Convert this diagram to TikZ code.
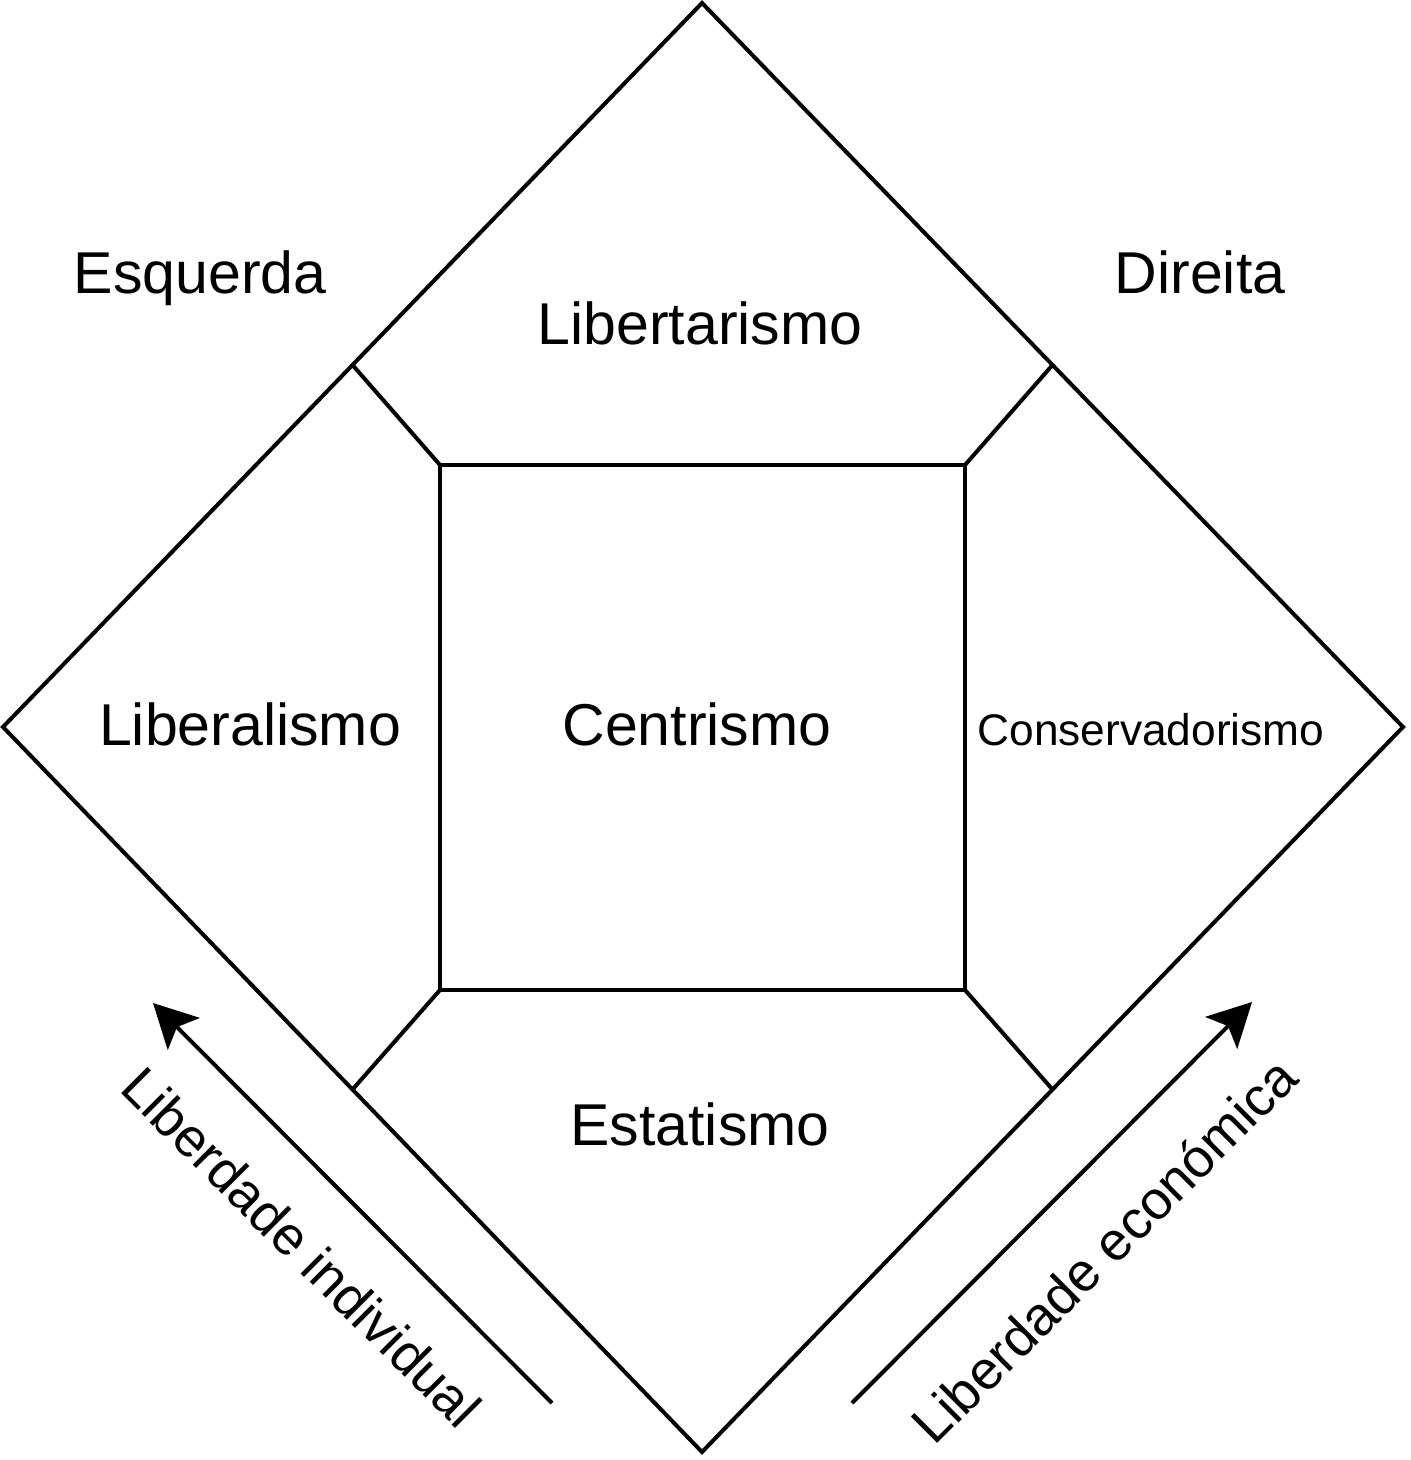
\documentclass[tikz,border=0pt]{standalone}
\usepackage{fontspec}
\setmainfont{Liberation Sans}
\usetikzlibrary{arrows.meta, positioning, calc}
\definecolor{ink}{HTML}{000000}

\begin{document}
\begin{tikzpicture}[
  x=0.02cm, y=-0.02cm,
  >={Stealth[length=0.87cm, width=0.9cm, inset=0.19cm]},
  frame/.style={ink, line width=0.08cm, line join=miter},
  axisline/.style={ink, line width=0.08cm},
  biglabel/.style={font=\fontsize{33.6}{40}\selectfont, text=ink, inner sep=0pt},
  smalllabel/.style={font=\fontsize{25.2}{30}\selectfont, text=ink, inner sep=0pt},
  axislabel/.style={font=\fontsize{30.8}{36}\selectfont, text=ink, inner sep=0pt},
]

% Canvas: 1410 x 1460 px, 1px = 0.02cm, y grows downward
\useasboundingbox (0,0) rectangle (1410,1460);

% --- Outer diamond ---
\coordinate (top)   at (702,3);
\coordinate (right) at (1403,727);
\coordinate (bot)   at (702,1452);
\coordinate (left)  at (3,727);
\draw[frame] (top) -- (right) -- (bot) -- (left) -- cycle;

% --- Inner square ---
\coordinate (in-nw) at (440,465);
\coordinate (in-ne) at (965,465);
\coordinate (in-se) at (965,990);
\coordinate (in-sw) at (440,990);
\draw[frame] (in-nw) -- (in-ne) -- (in-se) -- (in-sw) -- cycle;

% --- Spokes to the diamond edges (midpoints) ---
\coordinate (mid-nw) at ($(top)!0.5!(left)$);
\coordinate (mid-ne) at ($(top)!0.5!(right)$);
\coordinate (mid-se) at ($(bot)!0.5!(right)$);
\coordinate (mid-sw) at ($(bot)!0.5!(left)$);
\draw[frame] (in-nw) -- (mid-nw);
\draw[frame] (in-ne) -- (mid-ne);
\draw[frame] (in-se) -- (mid-se);
\draw[frame] (in-sw) -- (mid-sw);

% --- Region labels ---
\node[biglabel, anchor=base] (esq)  at (200,293)  {Esquerda};
\node[biglabel, anchor=base] (dir)  at (1200,293) {Direita};
\node[biglabel, anchor=base] (libt) at (700,344)  {Libertarismo};
\node[biglabel, anchor=base] (libl) at (250,745)  {Liberalismo};
\node[biglabel, anchor=base] (cent) at (697,745)  {Centrismo};
\node[smalllabel, anchor=base] (cons) at (1151,745) {Conservadorismo};
\node[biglabel, anchor=base] (esta) at (700,1145) {Estatismo};

% --- Axes ---
\coordinate (ind-from) at (552,1403);
\coordinate (ind-to)   at (153,1003);
\coordinate (eco-from) at (852,1403);
\coordinate (eco-to)   at (1252,1002);
\draw[axisline, ->] (ind-from) -- (ind-to);
\draw[axisline, ->] (eco-from) -- (eco-to);

\node[axislabel, rotate=-45] (ind) at (302,1247) {Liberdade individual};
\node[axislabel, rotate=45]  (eco) at (1104,1250) {Liberdade económica};

\end{tikzpicture}
\end{document}
